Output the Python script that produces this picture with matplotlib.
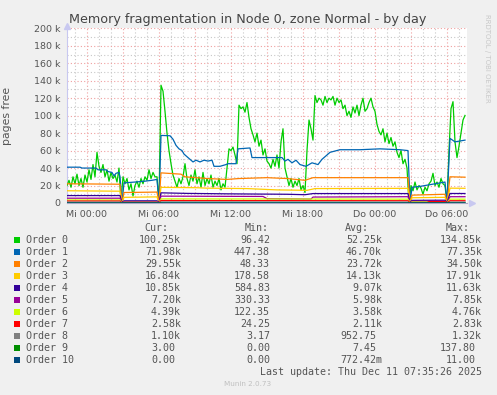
import numpy as np
import matplotlib
matplotlib.use("Agg")
import matplotlib.pyplot as plt
from matplotlib.patches import Rectangle

# =============================================================================
# Data (time in minutes since Mi 00:00, values in thousands of pages)
# =============================================================================

# Order 0 sampled every 10 minutes, starting at -100 min
order0_start = -100
order0_step = 10
order0_values = [
    20, 26, 18, 30, 22, 33, 20, 28, 18, 32,
    24, 38, 27, 44, 30, 58, 42, 35, 44, 30,
    38, 25, 35, 28, 32, 24, 40, 0.1, 30, 22,
    28, 15, 22, 8, 20, 25, 18, 28, 22, 30,
    26, 38, 28, 35, 30, 30, 0.1, 134.85, 128, 105,
    80, 60, 45, 32, 25, 18, 28, 22, 30, 45,
    28, 20, 32, 25, 38, 22, 30, 18, 35, 20,
    28, 22, 32, 18, 25, 20, 28, 15, 22, 18,
    40, 62, 60, 64, 55, 45, 112, 108, 110, 104,
    115, 98, 85, 78, 70, 80, 65, 72, 55, 62,
    48, 45, 40, 50, 42, 55, 40, 70, 85, 40,
    30, 20, 28, 18, 25, 20, 28, 15, 20, 12,
    60, 95, 85, 72, 123, 115, 120, 118, 112, 122,
    115, 120, 118, 122, 112, 120, 115, 118, 108, 112,
    100, 105, 98, 110, 103, 112, 100, 112, 120, 105,
    108, 115, 120, 110, 105, 90, 82, 78, 85, 70,
    80, 68, 75, 65, 70, 58, 52, 60, 45, 50,
    40, 0.1, 20, 14, 24, 15, 20, 17, 10, 18,
    14, 22, 25, 34, 20, 24, 18, 28, 22, 20,
    0.1, 60, 108, 116, 70, 52, 65, 80, 95, 100.25,
]

order1_t = [-100, -35, -25, 45, 55, 95, 105, 125, 135, 145, 160, 165, 175,
            185, 240, 290, 325, 350, 360, 370, 415, 430, 445, 460, 475, 485,
            500, 515, 530, 545, 565, 585, 605, 625, 635, 665, 695, 705, 745,
            755, 815, 825, 890, 975, 990, 1005, 1025, 1045, 1065, 1095, 1125,
            1155, 1175, 1215, 1265, 1365, 1465, 1565, 1605, 1615, 1625, 1665,
            1715, 1765, 1790, 1800, 1815, 1840, 1865, 1890]
order1_v = [41, 41, 40, 40, 38, 38, 36, 35, 31, 34, 35, 30, 0.45,
            23, 24, 25, 26, 27, 0.45, 77.35, 77, 73, 66, 62, 60, 56,
            53, 50, 47, 49, 47, 49, 48, 49, 42, 42, 44, 45, 45,
            62, 63, 52, 52, 52, 48, 50, 46, 49, 44, 42, 46,
            44, 50, 58, 61, 61, 62, 61, 60, 0.45, 18, 19,
            21, 23, 24, 0.45, 74, 70, 71, 71.98]

order2_t = [-100, 165, 175, 185, 350, 360, 370, 470, 490, 600, 700, 760, 900,
            1000, 1090, 1130, 1605, 1615, 1625, 1790, 1800, 1815, 1890]
order2_v = [22, 21.5, 0.05, 12, 12.5, 0.05, 34.5, 33, 30, 28, 27, 28, 29,
            28, 26, 29, 29, 0.05, 9, 10, 0.05, 30, 29.55]

order3_t = [-100, 165, 175, 185, 350, 360, 370, 550, 600, 800, 950, 1100,
            1140, 1605, 1615, 1625, 1790, 1800, 1815, 1890]
order3_v = [14, 13.5, 0.18, 6.5, 7, 0.18, 17.91, 17.5, 17, 16.5, 15, 14.5,
            16.5, 16.8, 0.18, 6, 6.5, 0.18, 17, 16.84]

order4_t = [-100, 165, 175, 185, 350, 360, 370, 500, 700, 1000, 1090, 1130,
            1605, 1615, 1625, 1790, 1800, 1815, 1890]
order4_v = [8.5, 8.5, 0.58, 2.5, 2.5, 0.58, 11.63, 11, 10.5, 10, 9.5, 10.8,
            10.8, 0.58, 3, 3.2, 0.58, 10.9, 10.85]

order5_t = [-100, 165, 175, 185, 350, 360, 370, 880, 900, 1120, 1130, 1605,
            1615, 1625, 1790, 1800, 1815, 1890]
order5_v = [5.5, 5.5, 0.33, 1.5, 1.5, 0.33, 7.85, 7.5, 5, 4.5, 6.8, 7.2,
            0.33, 2, 2, 0.33, 7.2, 7.2]

order6_t = [-100, 165, 175, 185, 350, 360, 370, 1605, 1615, 1625, 1790, 1800,
            1815, 1890]
order6_v = [3.5, 3.5, 0.12, 0.8, 0.8, 0.12, 4.76, 4.4, 0.12, 1.2, 1.2, 0.12,
            4.4, 4.39]

order7_t = [-100, 165, 175, 185, 350, 360, 370, 1605, 1615, 1625, 1700, 1710,
            1790, 1800, 1815, 1890]
order7_v = [2.3, 2.3, 0.02, 0.6, 0.6, 0.02, 2.83, 2.6, 0.02, 0.5, 0.5, 1.6,
            1.6, 0.02, 2.6, 2.58]

order8_t = [-100, 165, 175, 185, 350, 360, 370, 1605, 1615, 1625, 1790, 1800,
            1815, 1890]
order8_v = [1.0, 1.0, 0.003, 0.2, 0.2, 0.003, 1.32, 1.1, 0.003, 0.3, 0.3,
            0.003, 1.1, 1.1]

order9_t = [-100, 360, 370, 380, 1890]
order9_v = [0.003, 0.003, 0.138, 0.003, 0.003]

order10_t = [-100, 370, 380, 390, 1890]
order10_v = [0.0, 0.0, 0.011, 0.0, 0.0]

series_names = ["Order 0", "Order 1", "Order 2", "Order 3", "Order 4",
                "Order 5", "Order 6", "Order 7", "Order 8", "Order 9",
                "Order 10"]
series_colors = ["#00CC00", "#0066B3", "#FF8000", "#FFCC00", "#330099",
                 "#990099", "#CCFF00", "#FF0000", "#808080", "#008F00",
                 "#00487D"]

cur_values = ["100.25k", "71.98k", "29.55k", "16.84k", "10.85k", "7.20k",
              "4.39k", "2.58k", "1.10k", "3.00", "0.00"]
min_values = ["96.42", "447.38", "48.33", "178.58", "584.83", "330.33",
              "122.35", "24.25", "3.17", "0.00", "0.00"]
avg_values = ["52.25k", "46.70k", "23.72k", "14.13k", "9.07k", "5.98k",
              "3.58k", "2.11k", "952.75", "7.45", "772.42m"]
max_values = ["134.85k", "77.35k", "34.50k", "17.91k", "11.63k", "7.85k",
              "4.76k", "2.83k", "1.32k", "137.80", "11.00"]

x_tick_positions = [0, 360, 720, 1080, 1440, 1800]
x_tick_labels = ["Mi 00:00", "Mi 06:00", "Mi 12:00", "Mi 18:00",
                 "Do 00:00", "Do 06:00"]
y_tick_positions = [0, 20, 40, 60, 80, 100, 120, 140, 160, 180, 200]
y_tick_labels = ["0"] + ["%d k" % v for v in y_tick_positions[1:]]

# =============================================================================
# Figure
# =============================================================================

W, H = 497, 395
text_color = "#555555"

fig = plt.figure(figsize=(W / 100, H / 100), dpi=100)
fig.patch.set_facecolor("#F0F0F0")

ax = fig.add_axes([67 / W, 1 - 203 / H, 400 / W, (203 - 28.3) / H])
ax.set_facecolor("white")

order0_t = [order0_start + order0_step * i for i in range(len(order0_values))]
series = [
    (order0_t, order0_values), (order1_t, order1_v), (order2_t, order2_v),
    (order3_t, order3_v), (order4_t, order4_v), (order5_t, order5_v),
    (order6_t, order6_v), (order7_t, order7_v), (order8_t, order8_v),
    (order9_t, order9_v), (order10_t, order10_v),
]

for (t, v), color in zip(series, series_colors):
    ax.plot(t, v, color=color, linewidth=0.9, zorder=3)

ax.set_xlim(-100, 1900)
ax.set_ylim(0, 200)

# grid: red dotted major, grey dotted minor
ax.set_xticks(range(-0, 1900, 180), minor=False)
ax.set_xticks(range(-60, 1900, 60), minor=True)
ax.set_yticks(y_tick_positions)
ax.set_yticks(range(10, 200, 20), minor=True)
ax.grid(which="major", color="#F0A0A0", linestyle=(0, (1, 2)),
        linewidth=0.8, zorder=1)
ax.grid(which="minor", color="#C8C8C8", linestyle=(0, (1, 2)),
        linewidth=0.8, zorder=0)

ax.set_xticklabels([x_tick_labels[x_tick_positions.index(p)]
                    if p in x_tick_positions else ""
                    for p in range(0, 1900, 180)])
ax.set_yticklabels(y_tick_labels)
ax.tick_params(axis="both", which="both", length=0, labelsize=6.8,
               labelcolor=text_color)
ax.tick_params(axis="x", pad=5)
ax.tick_params(axis="y", pad=5)

for side in ["top", "right"]:
    ax.spines[side].set_visible(False)
ax.spines["left"].set_color("#C8C8F0")
ax.spines["bottom"].set_color("#A8A8C8")
ax.spines["left"].set_linewidth(0.8)
ax.spines["bottom"].set_linewidth(0.8)

# axis arrows
ax.plot([-100], [202.5], marker="^", markersize=4, color="#C8C8F0",
        clip_on=False, zorder=5)
ax.plot([1925], [0], marker=">", markersize=4, color="#C8C8F0",
        clip_on=False, zorder=5)

ax.set_ylabel("pages free", fontsize=7.8, color=text_color, labelpad=8)
ax.yaxis.set_label_coords(-55 / 400, 0.5)

fig.text(248 / W, 1 - 19 / H,
         "Memory fragmentation in Node 0, zone Normal - by day",
         ha="center", va="center", fontsize=9.2, color="#444444")

fig.text(487 / W, 1 - 58 / H, "RRDTOOL / TOBI OETIKER", rotation=270,
         ha="center", va="center", fontsize=5, color="#C8C8C8")

# =============================================================================
# Legend table
# =============================================================================

mono = "DejaVu Sans Mono"
fs = 7.2
char_w = 6.0


def px_text(x, y, s, ha="left", color=text_color, size=fs, family=mono):
    fig.text(x / W, 1 - y / H, s, ha=ha, va="center", fontsize=size,
             color=color, family=family)


px_text(168, 228, "Cur:", ha="right")
px_text(269, 228, "Min:", ha="right")
px_text(369, 228, "Avg:", ha="right")
px_text(470, 228, "Max:", ha="right")

columns = [(181, cur_values), (276, min_values), (382, avg_values),
           (482, max_values)]

for i, name in enumerate(series_names):
    y = 239.7 + 12 * i
    fig.add_artist(Rectangle((14 / W, 1 - (y + 3) / H), 6 / W, 6 / H,
                             transform=fig.transFigure,
                             facecolor=series_colors[i], edgecolor="none"))
    px_text(26, y, name)
    for right, values in columns:
        s = values[i]
        x = right if s[-1].isalpha() else right - char_w
        px_text(x, y, s, ha="right")

px_text(482, 372, "Last update: Thu Dec 11 07:35:26 2025", ha="right")
px_text(248, 384, "Munin 2.0.73", ha="center", color="#C0C0C0", size=5.2,
        family="DejaVu Sans")

fig.savefig("out.png", dpi=100, facecolor=fig.get_facecolor())
